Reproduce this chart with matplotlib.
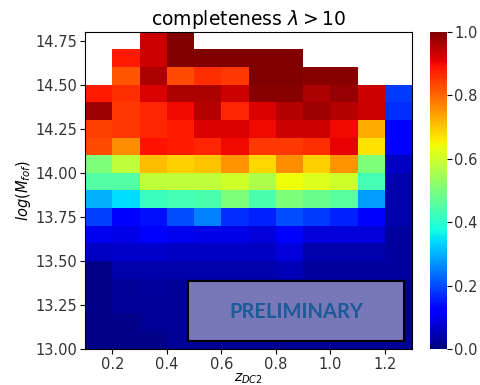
import matplotlib
matplotlib.use("Agg")
import numpy as np
import matplotlib.pyplot as plt
from matplotlib.patches import Rectangle

nan = np.nan

# bin edges
z_edges = [0.1, 0.2, 0.3, 0.4, 0.5, 0.6, 0.7, 0.8, 0.9, 1.0, 1.1, 1.2, 1.3]
m_edges = [13.0, 13.1, 13.2, 13.3, 13.4, 13.5, 13.6, 13.7, 13.8, 13.9,
           14.0, 14.1, 14.2, 14.3, 14.4, 14.5, 14.6, 14.7, 14.8]

# completeness, rows listed from top (14.7-14.8) down to bottom (13.0-13.1)
row_1475 = [nan, nan, 0.93, 1.00, nan, nan, nan, nan, nan, nan, nan, nan]
row_1465 = [nan, 0.88, 0.93, 1.00, 1.00, 1.00, 1.00, 1.00, nan, nan, nan, nan]
row_1455 = [nan, 0.82, 0.96, 0.83, 0.86, 0.85, 1.00, 1.00, 0.99, 0.99, nan, nan]
row_1445 = [0.88, 0.86, 0.92, 0.96, 0.96, 0.93, 0.99, 0.99, 0.96, 0.98, 0.93, 0.18]
row_1435 = [0.97, 0.85, 0.87, 0.90, 0.95, 0.87, 0.92, 0.95, 0.97, 0.95, 0.93, 0.17]
row_1425 = [0.84, 0.85, 0.87, 0.88, 0.92, 0.92, 0.90, 0.93, 0.93, 0.90, 0.73, 0.12]
row_1415 = [0.83, 0.76, 0.89, 0.88, 0.87, 0.90, 0.85, 0.85, 0.86, 0.91, 0.67, 0.11]
row_1405 = [0.50, 0.58, 0.71, 0.69, 0.70, 0.75, 0.68, 0.76, 0.69, 0.75, 0.50, 0.06]
row_1395 = [0.45, 0.45, 0.58, 0.58, 0.58, 0.60, 0.56, 0.64, 0.62, 0.60, 0.43, 0.04]
row_1385 = [0.30, 0.34, 0.42, 0.43, 0.44, 0.50, 0.44, 0.50, 0.48, 0.46, 0.28, 0.04]
row_1375 = [0.19, 0.12, 0.14, 0.20, 0.25, 0.17, 0.16, 0.20, 0.18, 0.16, 0.11, 0.04]
row_1365 = [0.10, 0.09, 0.11, 0.10, 0.09, 0.09, 0.08, 0.11, 0.08, 0.08, 0.08, 0.03]
row_1355 = [0.06, 0.07, 0.07, 0.06, 0.06, 0.06, 0.06, 0.08, 0.04, 0.04, 0.04, 0.03]
row_1345 = [0.01, 0.04, 0.04, 0.04, 0.04, 0.04, 0.04, 0.05, 0.03, 0.03, 0.03, 0.03]
row_1335 = [0.01, 0.02, 0.03, 0.02, 0.02, 0.02, 0.02, 0.02, 0.02, 0.02, 0.02, 0.02]
row_1325 = [0.01, 0.02, 0.02, 0.02, 0.02, 0.02, 0.02, 0.02, 0.02, 0.02, 0.02, 0.02]
row_1315 = [0.01, 0.01, 0.02, 0.02, 0.02, 0.02, 0.02, 0.02, 0.02, 0.02, 0.02, 0.02]
row_1305 = [0.01, 0.01, 0.01, 0.02, 0.02, 0.02, 0.02, 0.02, 0.02, 0.02, 0.02, 0.02]

rows_top_down = [row_1475, row_1465, row_1455, row_1445, row_1435, row_1425,
                 row_1415, row_1405, row_1395, row_1385, row_1375, row_1365,
                 row_1355, row_1345, row_1335, row_1325, row_1315, row_1305]
completeness = np.array(rows_top_down[::-1])

fig = plt.figure(figsize=(4.81, 3.85), dpi=100)
ax = fig.add_axes([0.177, 0.0935, 0.68, 0.824])
cax = fig.add_axes([0.895, 0.0935, 0.034, 0.824])

mesh = ax.pcolormesh(z_edges, m_edges, np.ma.masked_invalid(completeness),
                     cmap="jet", vmin=0, vmax=1)
ax.set_xlim(0.1, 1.3)
ax.set_ylim(13.0, 14.8)
ax.set_xticks([0.2, 0.4, 0.6, 0.8, 1.0, 1.2])
ax.set_yticks([13.0, 13.25, 13.5, 13.75, 14.0, 14.25, 14.5, 14.75])
ax.tick_params(labelsize=10.5, labelcolor="#333333", pad=2)
ax.set_title(r"completeness $\lambda > 10$", fontsize=13.5, pad=5)
ax.set_xlabel(r"$z_{DC2}$", fontsize=10, labelpad=0)
ax.set_ylabel(r"$log(M_{fof})$", fontsize=10.5, labelpad=2)

cb = fig.colorbar(mesh, cax=cax)
cb.set_ticks([0.0, 0.2, 0.4, 0.6, 0.8, 1.0])
cb.ax.tick_params(labelsize=10.5, labelcolor="#333333", pad=2)
cb.outline.set_visible(False)

# preliminary stamp
ax.add_patch(Rectangle((0.315, 0.025), 0.66, 0.19, transform=ax.transAxes,
                       facecolor="#7878b8", edgecolor="black", lw=1.5, zorder=5))
ax.text(0.645, 0.118, "PRELIMINARY", transform=ax.transAxes, ha="center",
        va="center", fontsize=14.5, fontweight="bold", color="#1c5a98",
        family="Lato", zorder=6)

plt.savefig("out.png", dpi=100)
plt.close()
